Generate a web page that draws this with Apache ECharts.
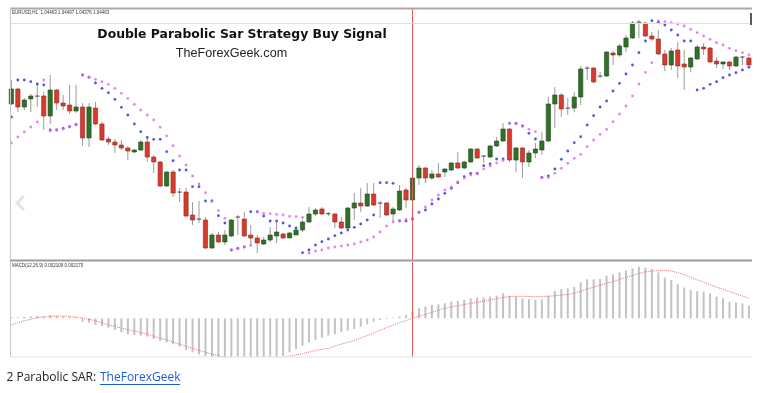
<!DOCTYPE html>
<html>
<head>
<meta charset="utf-8">
<script src="https://cdn.jsdelivr.net/npm/echarts/dist/echarts.min.js"></script>
<style>
html,body{margin:0;padding:0;background:#fff;}
#c{width:763px;height:393px;}
</style>
</head>
<body>
<div id="c"></div>
<script>
// ---- EURUSD H1 candles ----
const opens = [
1.0605,1.0620,1.0602,1.0610,1.0613,1.0613,1.0593,1.0619,1.0606,1.0604,
1.0598,1.0602,1.0571,1.0601,1.0585,1.0570,1.0567,1.0564,1.0561,1.0557,
1.0559,1.0567,1.0552,1.0547,1.0523,1.0537,1.0516,1.0517,1.0494,1.0490,
1.0489,1.0461,1.0474,1.0467,1.0473,1.0491,1.0490,1.0474,1.0471,1.0465,
1.0469,1.0473,1.0475,1.0471,1.0474,1.0479,1.0487,1.0495,1.0500,1.04955,
1.0495,1.0487,1.0481,1.0501,1.0506,1.0503,1.0515,1.0506,1.0506,1.0495,
1.0499,1.0519,1.0509,1.0531,1.0541,1.0531,1.0535,1.0537,1.0539,1.0546,
1.0541,1.0547,1.0560,1.0553,1.0552,1.0563,1.0568,1.0580,1.0549,1.0561,
1.0547,1.0556,1.0559,1.0568,1.0605,1.0614,1.0601,1.0601,1.0612,1.0640,
1.0641,1.0633,1.0633,1.0656,1.0654,1.0662,1.0671,1.0687,1.0686,1.0673,
1.0670,1.0655,1.0644,1.0659,1.0645,1.0642,1.0650,1.0662,1.0661,1.0648,
1.0645,1.0647,1.0643,1.0652,1.0651];
const closes = [
1.0620,1.0602,1.0609,1.0613,1.06125,1.0593,1.0619,1.0606,1.0603,1.0598,
1.0602,1.0571,1.0602,1.0585,1.0569,1.0567,1.0564,1.0561,1.0558,1.0559,
1.0567,1.0552,1.0547,1.0523,1.0537,1.0516,1.0517,1.0493,1.0489,1.04895,
1.0461,1.0474,1.0467,1.0474,1.0489,1.0492,1.0473,1.0471,1.0466,1.0469,
1.0474,1.0477,1.0471,1.0476,1.0479,1.0487,1.0495,1.0499,1.0495,1.04945,
1.0487,1.0481,1.0501,1.0506,1.0503,1.0515,1.0504,1.05055,1.0494,1.0500,
1.0518,1.0509,1.0531,1.0541,1.0531,1.0535,1.0532,1.0540,1.0546,1.0541,
1.0547,1.0560,1.0551,1.0552,1.0563,1.0568,1.0580,1.0549,1.0561,1.0547,
1.0556,1.0560,1.0568,1.0605,1.0614,1.0600,1.06005,1.0612,1.0640,1.0641,
1.0627,1.0633,1.0657,1.0654,1.0663,1.0671,1.0686,1.06865,1.0673,1.0670,
1.0655,1.0644,1.0658,1.0643,1.0642,1.0651,1.0662,1.0660,1.0647,1.0645,
1.0647,1.0643,1.0652,1.06515,1.0644];
const lows = [
1.0604,1.0597,1.0599,1.0597,1.0602,1.0579,1.0585,1.0599,1.0599,1.0595,
1.0596,1.0563,1.0562,1.0584,1.0568,1.0564,1.0556,1.0559,1.0549,1.0556,
1.0558,1.0547,1.0536,1.0522,1.0522,1.0512,1.0507,1.0492,1.0484,1.0486,
1.0460,1.0460,1.0466,1.0464,1.0472,1.0474,1.0472,1.0462,1.0456,1.0464,
1.0467,1.0466,1.0470,1.0471,1.0474,1.0477,1.0486,1.0493,1.0494,1.0493,
1.0481,1.0480,1.0480,1.0489,1.0497,1.0502,1.0503,1.0491,1.0493,1.0487,
1.0498,1.0501,1.0508,1.0524,1.0526,1.0529,1.0531,1.0532,1.0538,1.0540,
1.0540,1.0546,1.0550,1.0546,1.0551,1.0562,1.0567,1.0547,1.0537,1.0531,
1.0542,1.0551,1.0554,1.0567,1.0581,1.0592,1.0594,1.0597,1.0604,1.0629,
1.0626,1.0631,1.0632,1.0644,1.0652,1.0657,1.0670,1.0671,1.0672,1.0668,
1.0654,1.0638,1.0639,1.0631,1.0619,1.0637,1.0649,1.0654,1.0646,1.0641,
1.0640,1.0639,1.0642,1.0644,1.0643];
const highs = [
1.0629,1.0621,1.0611,1.0615,1.0626,1.0617,1.0634,1.0620,1.0614,1.0624,
1.0624,1.0606,1.0606,1.0607,1.0587,1.0572,1.0570,1.0569,1.0563,1.0560,
1.0569,1.0572,1.0554,1.0548,1.0538,1.0539,1.0521,1.0521,1.0507,1.0508,
1.0492,1.0476,1.0477,1.0479,1.0490,1.0494,1.0497,1.0484,1.0474,1.0472,
1.0482,1.0487,1.0476,1.0477,1.0481,1.0489,1.0502,1.0501,1.0502,1.0497,
1.0496,1.0492,1.0502,1.0516,1.0521,1.0526,1.0526,1.0508,1.0507,1.0502,
1.0524,1.0521,1.0532,1.0544,1.0542,1.0539,1.0546,1.0541,1.0547,1.0557,
1.0548,1.0561,1.0561,1.0554,1.0564,1.0572,1.0586,1.0581,1.0562,1.0562,
1.0559,1.0566,1.0577,1.0612,1.0622,1.0616,1.0611,1.0617,1.0643,1.0643,
1.0642,1.0637,1.0658,1.0658,1.0665,1.0674,1.0688,1.0689,1.0687,1.0677,
1.0679,1.0659,1.0661,1.0667,1.0659,1.0652,1.0664,1.0666,1.0662,1.0652,
1.0648,1.0648,1.0653,1.0653,1.0652];

// ---- Parabolic SAR #1 (blue, faster) ----
const sarFast = [
1.0592,1.0629,1.0629,1.06273,1.0625,1.0624,1.0579,1.0579,1.05807,1.05823,
1.05847,1.0634,1.06317,1.0626,1.06207,1.06163,1.06097,1.06017,1.0594,1.0585,
1.05773,1.05717,1.05697,1.05697,1.05573,1.05483,1.0539,1.0539,1.05223,1.05223,
1.0508,1.0508,1.04933,1.0486,1.0459,1.04607,1.0462,1.04973,1.04973,1.0493,
1.0488,1.0488,1.0486,1.0483,1.0481,1.04563,1.0459,1.0464,1.04673,1.0470,
1.04733,1.0476,1.0479,1.04817,1.0485,1.0489,1.0494,1.05263,1.05263,1.05257,
1.0488,1.0488,1.04897,1.04967,1.0499,1.0505,1.0510,1.05157,1.05207,1.05263,
1.05323,1.05357,1.05357,1.05433,1.0545,1.0550,1.0550,1.05857,1.05857,1.0583,
1.05757,1.0570,1.05317,1.0533,1.0540,1.05497,1.0558,1.05663,1.05723,1.0584,
1.05933,1.0602,1.0608,1.0618,1.06257,1.0635,1.0644,1.06563,1.0668,1.06883,
1.06867,1.0684,1.0679,1.0674,1.0668,1.0668,1.0619,1.06207,1.06247,1.06273,
1.06313,1.0634,1.06363,1.0639,1.06417];

// ---- Parabolic SAR #2 (violet, slower) ----
const sarSlow = [
1.0566,1.0572,1.0577,1.0582,1.0587,1.0629,1.0578,1.0579,1.0580,1.0582,
1.0584,1.0634,1.0632,1.06297,1.06273,1.06247,1.06207,1.06157,1.06107,1.06047,
1.0599,1.0594,1.0589,1.05817,1.0573,1.05633,1.0553,1.0544,1.0533,1.0525,
1.05163,1.0508,1.04983,1.04907,1.0459,1.0460,1.0462,1.0464,1.0497,1.04957,
1.04953,1.04947,1.0494,1.04927,1.04923,1.04915,1.0456,1.0458,1.0459,1.0461,
1.0462,1.0463,1.0464,1.0465,1.0467,1.0469,1.0472,1.0477,1.0483,1.0487,
1.04885,1.04895,1.0491,1.0497,1.0502,1.0509,1.0514,1.0519,1.0522,1.0527,
1.0531,1.0534,1.0535,1.0540,1.0543,1.0546,1.05485,1.05857,1.0585,1.0583,
1.05797,1.05773,1.0531,1.05315,1.05357,1.05407,1.05457,1.05507,1.05547,1.05623,
1.0569,1.05747,1.05797,1.05873,1.0595,1.0603,1.0613,1.0625,1.06367,1.06463,
1.0688,1.06873,1.06863,1.0685,1.0683,1.06797,1.06763,1.0673,1.06697,1.06663,
1.0664,1.06607,1.06583,1.06563,1.0654];

// ---- MACD(12,26,9) histogram and signal ----
const macdHist = [
0.0001,0.0001,0.00015,0.0002,0.00025,0.0002,0.0003,0.00025,0.0002,0.00015,
0.0001,-0.00033,-0.00043,-0.00067,-0.00077,-0.00093,-0.00117,-0.0014,-0.0016,-0.00167,
-0.00173,-0.00183,-0.00207,-0.00227,-0.0024,-0.0026,-0.00283,-0.00317,-0.0034,-0.0036,
-0.0038,-0.004,-0.0042,-0.0043,-0.0044,-0.0044,-0.0043,-0.0043,-0.0042,-0.0041,
-0.004,-0.00395,-0.0038,-0.0034,-0.00307,-0.00273,-0.0024,-0.00217,-0.00193,-0.00173,
-0.00157,-0.0014,-0.00123,-0.00107,-0.00083,-0.0006,-0.00033,-0.00017,-0.00007,0.00007,
0.0002,0.0003,0.00067,0.001,0.00117,0.00133,0.0014,0.0015,0.00167,0.00173,
0.00183,0.002,0.00207,0.00207,0.00217,0.00227,0.0025,0.00227,0.00217,0.002,
0.0019,0.00183,0.0019,0.00227,0.00273,0.0029,0.003,0.00313,0.0036,0.0039,
0.0039,0.00393,0.00427,0.0044,0.0046,0.00477,0.005,0.00517,0.00507,0.00493,
0.0046,0.00407,0.00383,0.0034,0.00307,0.00283,0.00273,0.00267,0.0025,0.00217,
0.002,0.00167,0.00157,0.0015,0.00127];
const macdSignal = [
-0.00067,-0.00045,-0.00025,-0.0001,0.00005,0.00015,0.0002,0.00023,0.00023,0.0002,
0.00012,0.00003,-0.0001,-0.00025,-0.00045,-0.00065,-0.0008,-0.00097,-0.00113,-0.00128,
-0.00143,-0.0016,-0.0018,-0.002,-0.00217,-0.00238,-0.00258,-0.0028,-0.003,-0.0032,
-0.0034,-0.0036,-0.00375,-0.0039,-0.004,-0.0041,-0.00415,-0.0042,-0.0042,-0.00415,
-0.0041,-0.004,-0.0039,-0.00378,-0.00367,-0.00353,-0.00338,-0.00323,-0.0031,-0.003,
-0.00278,-0.00258,-0.0024,-0.0022,-0.00197,-0.00173,-0.00148,-0.0012,-0.00092,-0.00068,
-0.00045,-0.00023,0,0.0002,0.0004,0.0006,0.0008,0.001,0.00113,0.00125,
0.00138,0.0015,0.0016,0.00172,0.00184,0.00196,0.00208,0.00217,0.0022,0.0022,
0.00218,0.00217,0.00217,0.0022,0.00226,0.00232,0.00238,0.0025,0.0027,0.00293,
0.00312,0.0033,0.0035,0.00367,0.00387,0.00407,0.00427,0.00448,0.00465,0.00472,
0.00477,0.00478,0.00474,0.00457,0.00435,0.0041,0.00385,0.0036,0.00336,0.00312,
0.0029,0.00267,0.00245,0.00222,0.002];

const signalBar = 62; // bar marked by the vertical red line
const bars = opens.map((_, i) => String(i));
const candleData = opens.map((o, i) => [i, o, closes[i], lows[i], highs[i]]);

const chart = echarts.init(document.getElementById('c'), null, {renderer: 'canvas'});

function renderCandle(params, api) {
  const x = api.value(0);
  const o = api.value(1), c = api.value(2), l = api.value(3), h = api.value(4);
  const pO = api.coord([x, o]), pC = api.coord([x, c]);
  const pL = api.coord([x, l]), pH = api.coord([x, h]);
  const w = api.size([1, 0])[0] * 0.66;
  const top = Math.min(pO[1], pC[1]);
  const bot = Math.max(pO[1], pC[1]);
  const doji = bot - top < 1.2;
  const up = c > o;
  const fill = doji ? '#5a5a5a' : (up ? '#32702a' : '#da3a2e');
  const stroke = doji ? '#5a5a5a' : (up ? '#1f4a18' : '#8e2a20');
  return {
    type: 'group',
    children: [
      {type: 'line', shape: {x1: pH[0], y1: pH[1], x2: pL[0], y2: pL[1]},
       style: {stroke: '#9a9a9a', lineWidth: 1}},
      {type: 'rect', shape: {x: pO[0] - w / 2, y: doji ? top - 0.5 : top, width: w, height: doji ? 1.2 : bot - top},
       style: {fill: fill, stroke: doji ? null : stroke, lineWidth: 0.6}}
    ]
  };
}

function redLine() {
  return {
    silent: true, symbol: ['none', 'none'], label: {show: false},
    lineStyle: {color: '#e25a5a', width: 1, type: 'solid', opacity: 1},
    data: [{xAxis: String(signalBar), lineStyle: {color: '#e25a5a', width: 1, type: 'solid'}}]
  };
}

const option = {
  animation: false,
  backgroundColor: '#ffffff',
  grid: [
    {left: 8.15, top: 9, width: 744, height: 251},
    {left: 8.15, top: 262, width: 744, height: 95}
  ],
  xAxis: [
    {type: 'category', gridIndex: 0, data: bars, boundaryGap: true, show: false},
    {type: 'category', gridIndex: 1, data: bars, boundaryGap: true, show: false}
  ],
  yAxis: [
    {type: 'value', gridIndex: 0, min: 1.0449, max: 1.0700, show: false, splitLine: {show: false}},
    {type: 'value', gridIndex: 1, min: -0.00387, max: 0.00563, show: false, splitLine: {show: false}}
  ],
  series: [
    {
      type: 'custom', name: 'EURUSD', xAxisIndex: 0, yAxisIndex: 0,
      renderItem: renderCandle, data: candleData,
      encode: {x: 0, y: [1, 2, 3, 4]}, z: 2
    },
    {
      type: 'scatter', name: 'SAR fast', xAxisIndex: 0, yAxisIndex: 0,
      data: sarFast, symbol: 'circle', symbolSize: 2.8,
      itemStyle: {color: '#2c2cd2'}, z: 3, markLine: redLine()
    },
    {
      type: 'scatter', name: 'SAR slow', xAxisIndex: 0, yAxisIndex: 0,
      data: sarSlow, symbol: 'circle', symbolSize: 2.8,
      itemStyle: {color: '#e064ee'}, z: 3
    },
    {
      type: 'bar', name: 'MACD', xAxisIndex: 1, yAxisIndex: 1,
      data: macdHist, barWidth: 2, itemStyle: {color: '#c2c2c2'},
      markLine: redLine(), z: 2
    },
    {
      type: 'line', name: 'Signal', xAxisIndex: 1, yAxisIndex: 1,
      data: macdSignal, showSymbol: false, symbol: 'none',
      lineStyle: {color: '#e07474', width: 1, type: 'dotted'}, z: 3
    }
  ],
  graphic: [
    {type: 'line', shape: {x1: 10, y1: 8.5, x2: 752, y2: 8.5}, style: {stroke: '#a9a9a9', lineWidth: 2}, z: 10},
    {type: 'line', shape: {x1: 10, y1: 23.5, x2: 752, y2: 23.5}, style: {stroke: '#dedede', lineWidth: 1}, z: 10},
    {type: 'line', shape: {x1: 10.5, y1: 8, x2: 10.5, y2: 357}, style: {stroke: '#c8c8c8', lineWidth: 1}, z: 10},
    {type: 'line', shape: {x1: 10, y1: 260.5, x2: 752, y2: 260.5}, style: {stroke: '#9c9c9c', lineWidth: 2}, z: 10},
    {type: 'line', shape: {x1: 10, y1: 357, x2: 752, y2: 357}, style: {stroke: '#e4e4e4', lineWidth: 1}, z: 10},
    {type: 'rect', shape: {x: 750, y: 13, width: 2, height: 12}, style: {fill: '#5a5a5a'}, z: 10},
    {type: 'text', x: 12, y: 10, style: {text: 'EURUSD,H1  1.04463 1.04497 1.04376 1.04463', font: '4.5px "Liberation Sans"', fill: '#333'}, z: 10},
    {type: 'text', x: 12, y: 263, style: {text: 'MACD(12,26,9) 0.002109 0.002170', font: '4.5px "Liberation Sans"', fill: '#333'}, z: 10},
    {type: 'text', x: 242, y: 35, style: {text: 'Double Parabolic Sar Strategy Buy Signal', font: 'bold 12.4px "DejaVu Sans"', fill: '#111', textAlign: 'center', textVerticalAlign: 'middle'}, z: 10},
    {type: 'text', x: 231.5, y: 54, style: {text: 'TheForexGeek.com', font: '12.6px "Liberation Sans"', fill: '#222', textAlign: 'center', textVerticalAlign: 'middle'}, z: 10},
    {type: 'polyline', shape: {points: [[24, 196], [17, 203], [24, 210]]}, style: {stroke: '#e4e4e4', lineWidth: 3, fill: null}, z: 10},
    {type: 'text', x: 6.5, y: 377.5, style: {text: '2 Parabolic SAR: ', font: '12px "Open Sans"', fill: '#222', textVerticalAlign: 'middle'}, z: 10},
    {type: 'text', x: 100, y: 377.5, style: {text: 'TheForexGeek', font: '12px "Open Sans"', fill: '#1f5fd6', textVerticalAlign: 'middle'}, z: 10},
    {type: 'line', shape: {x1: 100, y1: 384.5, x2: 180, y2: 384.5}, style: {stroke: '#1f5fd6', lineWidth: 1}, z: 10}
  ]
};
chart.setOption(option);
</script>
</body>
</html>
